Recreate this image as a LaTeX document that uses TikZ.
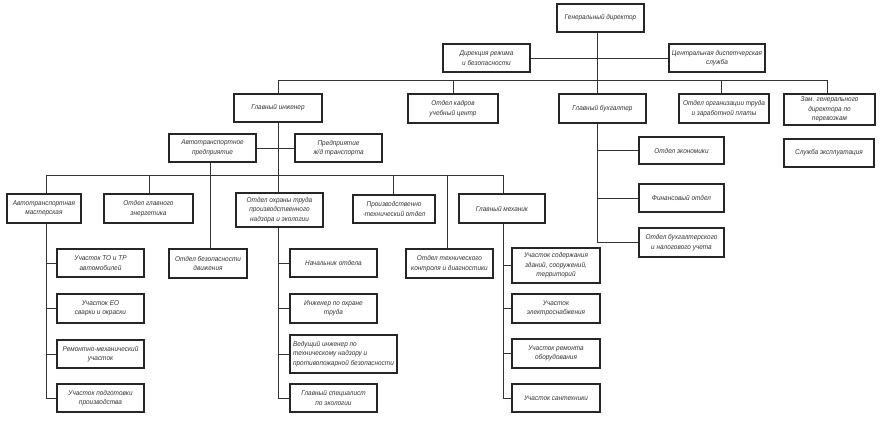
\documentclass[tikz,border=0pt]{standalone}
\usepackage{fontspec}
\newfontfamily\gostfont{Liberation Sans}[FakeStretch=0.92]
\begin{document}
\begin{tikzpicture}[x=1pt,y=-1pt,
  box/.style={draw=black!85, line width=1.1pt, align=center, inner sep=1pt,
    font=\gostfont\itshape\fontsize{7}{9.5}\selectfont, text=black!80},
  bx/.style 2 args={minimum width=#1pt, minimum height=#2pt},
  ln/.style={draw=black!80, line width=0.9pt}]
\useasboundingbox[fill=white] (0,0) rectangle (884,433);
% top levels
\node[box,bx={87}{28}] (GD) at (600.5,18) {Генеральный директор};
\node[box,bx={87}{28}] (Dir) at (486.5,58) {Дирекция режима\\и безопасности};
\node[box,bx={96}{28}] (CDS) at (717,58) {Центральная диспетчерская\\служба};
\node[box,bx={88}{28}] (GI) at (278,108) {Главный инженер};
\node[box,bx={90}{29}] (OK) at (453,108.5) {Отдел кадров\\учебный центр};
\node[box,bx={87}{29}] (GB) at (602.5,108.5) {Главный бухгалтер};
\node[box,bx={90}{29}] (OOT) at (724,108.5) {Отдел организации труда\\и заработной платы};
\node[box,bx={91}{31}] (Zam) at (829.5,109.5) {Зам. генерального\\директора по\\перевозкам};
\node[box,bx={90}{28}] (SE) at (829,153) {Служба эксплуатация};
\node[box,bx={87}{28}] (ATP) at (212.5,148) {Автотранспортное\\предприятие};
\node[box,bx={87}{28}] (ZhD) at (338.5,148) {Предприятие\\ж/д транспорта};
% third level
\node[box,bx={74}{29}] (AM) at (44,208.5) {Автотранспортная\\мастерская};
\node[box,bx={89}{29}] (OGE) at (148.5,208.5) {Отдел главного\\энергетика};
\node[box,bx={87}{34}] (OOTr) at (279.5,210) {Отдел охраны труда\\производственного\\надзора и экологии};
\node[box,bx={82}{28}] (PTO) at (394,209) {Производственно\\-технический отдел};
\node[box,bx={86}{29}] (GM) at (502,208.5) {Главный механик};
\node[box,bx={78}{29}] (OBD) at (208,263.5) {Отдел безопасности\\движения};
\node[box,bx={87}{29}] (OTK) at (449.5,263.5) {Отдел технического\\контроля и диагностики};
% accounting
\node[box,bx={85}{27}] (Ek) at (681.5,150.5) {Отдел экономики};
\node[box,bx={85}{28}] (Fin) at (681.5,198) {Финансовый отдел};
\node[box,bx={85}{29}] (Buh) at (681.5,242.5) {Отдел бухгалтерского\\и налогового учета};
% AM children
\node[box,bx={87}{28}] (TO) at (100.5,263) {Участок ТО и ТР\\автомобилей};
\node[box,bx={87}{29}] (EO) at (100.5,308.5) {Участок ЕО\\сварки и окраски};
\node[box,bx={87}{28}] (RM) at (100.5,354) {Ремонтно-механический\\участок};
\node[box,bx={87}{28}] (PP) at (100.5,398) {Участок подготовки\\производства};
% OOTr children
\node[box,bx={87}{28}] (NO) at (333.5,263) {Начальник отдела};
\node[box,bx={87}{29}] (IOT) at (333.5,308.5) {Инженер по охране\\труда};
\node[box,bx={107}{38},align=left] (VI) at (343.5,354) {Ведущий инженер по\\техническому надзору и\\противопожарной безопасности};
\node[box,bx={87}{28}] (GS) at (333.5,398) {Главный специалист\\по экологии};
% GM children
\node[box,bx={88}{35}] (US) at (556,265.5) {Участок содержания\\зданий, сооружений,\\территорий};
\node[box,bx={88}{29}] (UE) at (556,308.5) {Участок\\электроснабжения};
\node[box,bx={88}{29}] (UR) at (556,353.5) {Участок ремонта\\оборудования};
\node[box,bx={88}{28}] (USa) at (556,398) {Участок сантехники};
% bus coordinates
\coordinate (t0) at (597,80);
\coordinate (tL) at (278,80);
\coordinate (tOK) at (453,80);
\coordinate (tOOT) at (721,80);
\coordinate (tR) at (827,80);
\coordinate (m0) at (46,175);
\coordinate (mOGE) at (149,175);
\coordinate (mPTO) at (393,175);
\coordinate (mOTK) at (447,175);
\coordinate (mR) at (503,175);
\coordinate (aX) at (210,0);
% connectors
\draw[ln] (t0 |- GD.south) -- (t0);
\draw[ln] (Dir.east) -- (CDS.west);
\draw[ln] (tL) -- (tR);
\draw[ln] (tL) -- (GI.north);
\draw[ln] (tOK) -- (tOK |- OK.north);
\draw[ln] (t0) -- (t0 |- GB.north);
\draw[ln] (tOOT) -- (tOOT |- OOT.north);
\draw[ln] (tR) -- (tR |- Zam.north);
\draw[ln] (GI.south) -- (GI.south |- OOTr.north);
\draw[ln] (ATP.east) -- (ZhD.west);
\draw[ln] (m0) -- (mR);
\draw[ln] (m0) -- (m0 |- AM.north);
\draw[ln] (mOGE) -- (mOGE |- OGE.north);
\draw[ln] (mPTO) -- (mPTO |- PTO.north);
\draw[ln] (mOTK) -- (mOTK |- OTK.north);
\draw[ln] (mR) -- (mR |- GM.north);
\draw[ln] (aX |- ATP.south) -- (aX |- OBD.north);
% accounting column
\draw[ln] (t0 |- GB.south) -- (t0 |- Buh.west);
\foreach \n in {Ek,Fin,Buh} \draw[ln] (t0 |- \n.west) -- (\n.west);
% AM column
\draw[ln] (m0 |- AM.south) -- (m0 |- PP.west);
\foreach \n in {TO,EO,RM,PP} \draw[ln] (m0 |- \n.west) -- (\n.west);
% OOTr column
\draw[ln] (OOTr.south -| tL) -- (tL |- GS.west);
\foreach \n in {NO,IOT,VI,GS} \draw[ln] (tL |- \n.west) -- (\n.west);
% GM column
\draw[ln] (mR |- GM.south) -- (mR |- USa.west);
\foreach \n in {US,UE,UR,USa} \draw[ln] (mR |- \n.west) -- (\n.west);
\end{tikzpicture}
\end{document}
